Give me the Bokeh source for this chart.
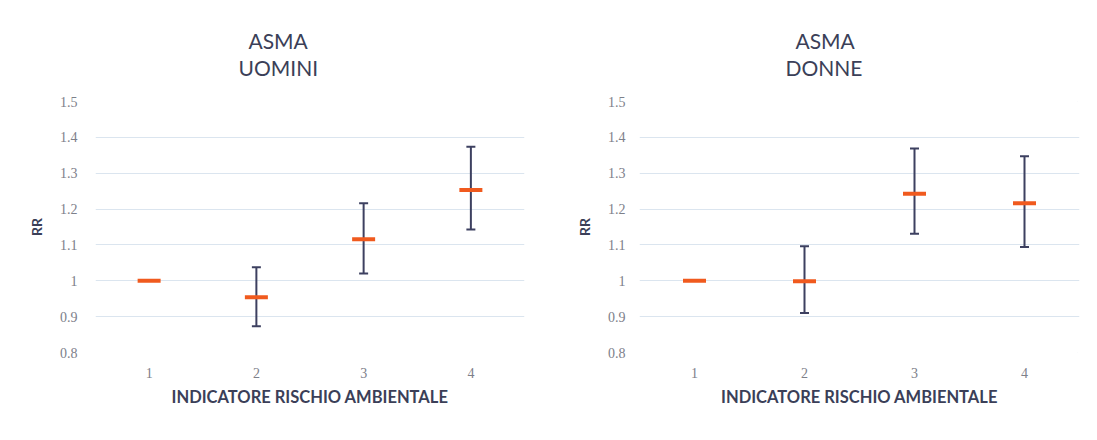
from bokeh.plotting import figure
from bokeh.models import ColumnDataSource, Whisker, Title, FixedTicker, Range1d
from bokeh.layouts import row
from bokeh.embed import file_html
from bokeh.resources import INLINE

categories = [1, 2, 3, 4]
y_ticks = [0.8, 0.9, 1.0, 1.1, 1.2, 1.3, 1.4, 1.5]
y_tick_labels = ["0.8", "0.9", "1", "1.1", "1.2", "1.3", "1.4", "1.5"]

men_rr = [1.0, 0.954, 1.116, 1.253]
men_low = [1.0, 0.873, 1.020, 1.143]
men_high = [1.0, 1.038, 1.216, 1.374]

women_rr = [1.0, 0.999, 1.243, 1.216]
women_low = [1.0, 0.910, 1.131, 1.094]
women_high = [1.0, 1.096, 1.369, 1.347]

TITLE_COLOR = "#3b3f58"
GRID_COLOR = "#dbe5ef"
TICK_COLOR = "#7d808a"
ERR_COLOR = "#3d4060"
MARK_COLOR = "#f05a1e"


def make_panel(title2, rr, low, high, width, b_left, b_right, b_top, b_bottom,
               spacer, off_top, off_bottom, y_stand):
    p = figure(width=width, height=424, output_backend="svg", toolbar_location=None,
               title=None,
               x_range=Range1d(0.5, 4.5), y_range=Range1d(0.8, 1.5),
               min_border_left=b_left, min_border_right=b_right,
               min_border_top=b_top, min_border_bottom=b_bottom,
               styles={"outline": "1px solid #e8ecf0", "outline-offset": "-3px"})
    p.outline_line_color = None
    p.background_fill_color = "white"
    p.border_fill_color = "white"
    p.xgrid.grid_line_color = None
    p.ygrid.grid_line_color = GRID_COLOR
    p.ygrid.grid_line_width = 1
    p.yaxis.ticker = FixedTicker(ticks=y_ticks)
    p.xaxis.ticker = FixedTicker(ticks=categories)
    p.yaxis.major_label_overrides = dict(zip(y_ticks, y_tick_labels))
    for ax in (p.xaxis, p.yaxis):
        ax.axis_line_color = None
        ax.major_tick_line_color = None
        ax.minor_tick_line_color = None
        ax.major_tick_out = 0
        ax.major_tick_in = 0
        ax.minor_tick_out = 0
        ax.minor_tick_in = 0
        ax.major_label_text_color = TICK_COLOR
        ax.major_label_text_font = "Liberation Serif"
        ax.major_label_text_font_size = "14px"
        ax.axis_label_text_color = TITLE_COLOR
        ax.axis_label_text_font = "Lato"
        ax.axis_label_text_font_style = "bold"
    p.yaxis.major_label_standoff = y_stand
    p.xaxis.major_label_standoff = 15
    p.xaxis.axis_label = "INDICATORE RISCHIO AMBIENTALE"
    p.xaxis.axis_label_text_font_size = "16.5px"
    p.xaxis.axis_label_standoff = 6
    p.yaxis.axis_label = "RR"
    p.yaxis.axis_label_text_font_size = "14px"
    p.yaxis.axis_label_standoff = 12

    src = ColumnDataSource(dict(x=categories, rr=rr, low=low, high=high))
    w = Whisker(base="x", lower="low", upper="high", source=src, dimension="height",
                line_color=ERR_COLOR, line_width=2)
    for head in (w.upper_head, w.lower_head):
        head.size = 9
        head.line_color = ERR_COLOR
        head.line_width = 2
    p.add_layout(w)
    p.scatter(x="x", y="rr", source=src, marker="dash", size=23, line_width=4,
              line_color=MARK_COLOR, fill_color=MARK_COLOR)

    # titles: spacer (closest to frame), second line, first line
    p.add_layout(Title(text=" ", text_font_size=spacer, standoff=0, align="left"), "above")
    p.add_layout(Title(text=title2, align="left", offset=off_bottom, standoff=0,
                       text_font="Lato", text_font_size="21px", text_font_style="normal",
                       text_color=TITLE_COLOR), "above")
    p.add_layout(Title(text="ASMA", align="left", offset=off_top, standoff=0,
                       text_font="Lato", text_font_size="21px", text_font_style="normal",
                       text_color=TITLE_COLOR), "above")
    return p


left = make_panel("UOMINI", men_rr, men_low, men_high, width=545,
                  b_left=95, b_right=21, b_top=97, b_bottom=72,
                  spacer="18px", off_top=153, off_bottom=143, y_stand=18)
right = make_panel("DONNE", women_rr, women_low, women_high, width=535,
                   b_left=94, b_right=1, b_top=101, b_bottom=69,
                   spacer="18px", off_top=156, off_bottom=146, y_stand=14)

layout = row(left, right)
open("out.html", "w").write(file_html(layout, INLINE))
